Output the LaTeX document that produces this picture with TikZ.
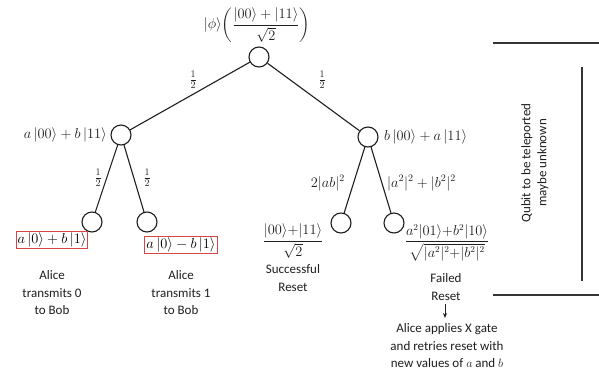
\documentclass[tikz,border=0pt]{standalone}
\usepackage{amsmath}
\usepackage{fontspec}
\newfontfamily\capfont{Carlito}
\usetikzlibrary{arrows.meta}
\definecolor{boxred}{RGB}{214,70,70}
\definecolor{ink}{RGB}{30,30,30}
\begin{document}
\begin{tikzpicture}[x=1pt,y=-1pt,
  st/.style={circle,draw=ink,minimum size=20pt,inner sep=0pt,line width=1.1pt},
  edge/.style={draw=ink,line width=1.1pt},
  lab/.style={font=\fontsize{14}{16}\selectfont,inner sep=1pt,text=ink},
  captxt/.style={font=\capfont\fontsize{13}{17.5}\selectfont,align=center,text=ink,inner sep=0pt},
  redbox/.style={draw=boxred,line width=1pt,inner sep=1.5pt,font=\fontsize{14}{16}\selectfont},
  sideline/.style={draw=ink!90,line width=1.2pt}]
\useasboundingbox (0,0) rectangle (599,370);
% tree nodes
\node[st] (r) at (259,57) {};
\node[st] (L) at (121,135) {};
\node[st] (R) at (368,137) {};
\node[st] (LL) at (92,222) {};
\node[st] (LR) at (147,222) {};
\node[st] (RL) at (341,223) {};
\node[st] (RR) at (394,223) {};
\draw[edge] (r) -- (L);
\draw[edge] (r) -- (R);
\draw[edge] (L) -- (LL);
\draw[edge] (L) -- (LR);
\draw[edge] (R) -- (RL);
\draw[edge] (R) -- (RR);
% labels
\node[lab,font=\fontsize{13.5}{15}\selectfont] (top) at (257,25) {$|\phi\rangle\biggl(\dfrac{|00\rangle+|11\rangle}{\sqrt{2}}\biggr)$};
\node[lab] (p1) at (193,80) {$\tfrac{1}{2}$};
\node[lab] (p2) at (322,80) {$\tfrac{1}{2}$};
\node[lab,anchor=east] (lL) at (108,135) {$a\,|00\rangle+b\,|11\rangle$};
\node[lab,anchor=west] (lR) at (383,137) {$b\,|00\rangle+a\,|11\rangle$};
\node[lab] (p3) at (98,178) {$\tfrac{1}{2}$};
\node[lab] (p4) at (147,178) {$\tfrac{1}{2}$};
\node[lab,anchor=east] (q1) at (346,183) {$2|ab|^2$};
\node[lab,anchor=west] (q2) at (386,183) {$|a^2|^2+|b^2|^2$};
% leaf results
\node[redbox] (b1) at (52,240) {$a\,|0\rangle+b\,|1\rangle$};
\node[redbox] (b2) at (181,245) {$a\,|0\rangle-b\,|1\rangle$};
\node[captxt] (c1) at (52,293) {Alice\\transmits 0\\to Bob};
\node[captxt] (c2) at (181,293) {Alice\\transmits 1\\to Bob};
\node[lab,font=\fontsize{14}{16}\selectfont] (f1) at (293,241) {$\dfrac{|00\rangle{+}|11\rangle}{\sqrt{2}}$};
\node[captxt] (c3) at (293,278) {Successful\\Reset};
\node[lab,font=\fontsize{13.5}{15}\selectfont] (f2) at (447,243) {$\dfrac{a^2|01\rangle{+}b^2|10\rangle}{\sqrt{|a^2|^2{+}|b^2|^2}}$};
\node[captxt] (c4) at (446,287) {Failed\\Reset};
\node[captxt] (c5) at (447,346) {Alice applies X gate\\and retries reset with\\new values of $a$ and $b$};
\coordinate (ar1) at (445,304);
\coordinate (ar2) at (445,318);
\draw[ink,line width=0.9pt,-{Stealth[length=5pt,width=4pt]}] (ar1) -- (ar2);
% right side annotation
\coordinate (t1) at (493,43);
\coordinate (t2) at (599,43);
\coordinate (b1r) at (493,295);
\coordinate (b2r) at (599,295);
\coordinate (v1) at (582,67);
\coordinate (v2) at (582,281);
\draw[sideline] (t1) -- (t2);
\draw[sideline] (b1r) -- (b2r);
\draw[sideline] (v1) -- (v2);
\node[captxt,rotate=90,font=\capfont\fontsize{13}{16}\selectfont] (q) at (535,163) {Qubit to be teleported\\maybe unknown};
\end{tikzpicture}
\end{document}
